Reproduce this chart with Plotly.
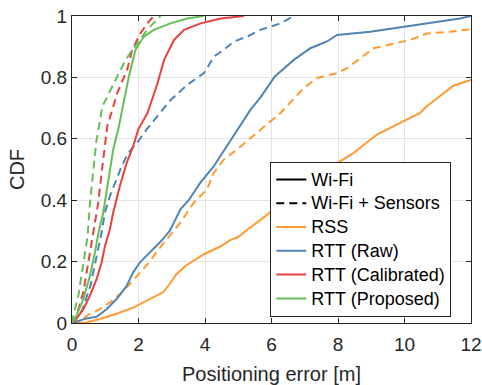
import plotly.graph_objects as go

# ---- data (positioning error [m], CDF) ----
rss_wifi_x = [0, 0.44, 0.84, 1.34, 1.84, 2.34, 2.74, 2.94, 3.14, 3.4, 3.7, 3.97, 4.47, 4.76, 5.0, 5.26, 5.66, 5.95,
              6.5, 7.0, 7.5, 7.97, 8.47, 8.97, 9.17, 9.87, 10.47, 10.67, 11.07, 11.47, 12]
rss_wifi_y = [0, 0.002, 0.013, 0.03, 0.05, 0.078, 0.1, 0.127, 0.159, 0.185, 0.205, 0.224, 0.25, 0.27, 0.28, 0.303, 0.335, 0.36,
              0.4, 0.44, 0.48, 0.52, 0.554, 0.597, 0.614, 0.652, 0.684, 0.706, 0.738, 0.773, 0.792]

rss_sens_x = [0, 0.24, 0.54, 0.84, 1.14, 1.44, 1.74, 2.04, 2.34, 2.64, 2.94, 3.26, 3.66, 4.06, 4.26, 4.56, 4.96, 5.26, 5.66,
              6.27, 6.97, 7.37, 7.97, 8.27, 9.07, 10.17, 10.67, 11.37, 12]
rss_sens_y = [0, 0.007, 0.03, 0.045, 0.067, 0.094, 0.127, 0.165, 0.2, 0.245, 0.283, 0.327, 0.392, 0.435, 0.489, 0.532, 0.565, 0.592, 0.63,
              0.684, 0.765, 0.798, 0.814, 0.83, 0.895, 0.922, 0.943, 0.949, 0.957]

raw_wifi_x = [0, 0.44, 0.74, 1.04, 1.34, 1.64, 1.84, 2.04, 2.34, 2.64, 2.94, 3.26, 3.51, 3.86, 4.26, 4.66, 5.0, 5.37, 5.67,
              6.1, 6.67, 7.17, 7.67, 7.97, 8.97, 10.17, 10.67, 11.67, 12]
raw_wifi_y = [0, 0.015, 0.02, 0.045, 0.078, 0.12, 0.165, 0.197, 0.23, 0.262, 0.3, 0.37, 0.4, 0.457, 0.51, 0.576, 0.635, 0.695, 0.735,
              0.803, 0.857, 0.895, 0.917, 0.938, 0.949, 0.968, 0.978, 0.992, 1.0]

raw_sens_x = [0, 0.3, 0.55, 0.75, 0.89, 0.99, 1.14, 1.34, 1.49, 1.69, 1.99, 2.24, 2.57, 2.97, 3.47, 3.97, 4.27, 4.57, 4.87,
              5.27, 5.67, 6.27, 6.67]
raw_sens_y = [0, 0.04, 0.12, 0.22, 0.294, 0.36, 0.413, 0.468, 0.51, 0.554, 0.592, 0.63, 0.673, 0.727, 0.776, 0.814, 0.868, 0.89, 0.917,
              0.933, 0.955, 0.976, 1.0]

cal_wifi_x = [0, 0.09, 0.34, 0.54, 0.74, 0.89, 0.99, 1.14, 1.24, 1.44, 1.64, 1.84, 1.99, 2.27, 2.57, 2.77, 3.07, 3.37, 3.87, 4.47, 5.17]
cal_wifi_y = [0, 0.007, 0.045, 0.089, 0.143, 0.197, 0.25, 0.305, 0.36, 0.446, 0.52, 0.576, 0.63, 0.684, 0.78, 0.857, 0.922, 0.955, 0.976, 0.992, 1.0]

cal_sens_x = [0, 0.14, 0.34, 0.44, 0.54, 0.64, 0.7, 0.79, 0.89, 0.99, 1.06, 1.36, 1.66, 1.81, 2.06, 2.31, 2.46]
cal_sens_y = [0, 0.024, 0.1, 0.165, 0.23, 0.305, 0.33, 0.392, 0.489, 0.576, 0.64, 0.749, 0.825, 0.89, 0.944, 0.982, 1.0]

pro_wifi_x = [0, 0.09, 0.34, 0.54, 0.69, 0.79, 0.94, 1.09, 1.24, 1.39, 1.51, 1.71, 1.91, 2.16, 2.46, 2.96, 3.46, 3.96]
pro_wifi_y = [0, 0.013, 0.078, 0.154, 0.23, 0.29, 0.36, 0.468, 0.565, 0.63, 0.695, 0.803, 0.89, 0.933, 0.955, 0.976, 0.992, 1.0]

pro_sens_x = [0, 0.04, 0.19, 0.29, 0.39, 0.47, 0.54, 0.64, 0.73, 0.91, 1.31, 1.61, 1.96, 2.26, 2.66]
pro_sens_y = [0, 0.024, 0.089, 0.154, 0.219, 0.283, 0.392, 0.489, 0.59, 0.705, 0.792, 0.857, 0.911, 0.955, 1.0]

x_ticks = [0, 2, 4, 6, 8, 10, 12]
y_ticks = [0, 0.2, 0.4, 0.6, 0.8, 1]

series = [
    ("RSS", "#FF9A33", rss_wifi_x, rss_wifi_y, rss_sens_x, rss_sens_y),
    ("RTT (Raw)", "#4F84B5", raw_wifi_x, raw_wifi_y, raw_sens_x, raw_sens_y),
    ("RTT (Calibrated)", "#E8413F", cal_wifi_x, cal_wifi_y, cal_sens_x, cal_sens_y),
    ("RTT (Proposed)", "#66BE58", pro_wifi_x, pro_wifi_y, pro_sens_x, pro_sens_y),
]

FONT = "Liberation Sans, Arial, Helvetica, sans-serif"
TXT = "#262626"
DASH = "8px,5px"


def lab(s):
    return '<span style="font-size:18px">' + s + '</span>'


fig = go.Figure()
# legend-only style entries
fig.add_trace(go.Scatter(x=[None], y=[None], mode="lines", name=lab("Wi-Fi"),
                         line=dict(color="black", width=2)))
fig.add_trace(go.Scatter(x=[None], y=[None], mode="lines", name=lab("Wi-Fi + Sensors"),
                         line=dict(color="black", width=2, dash=DASH)))

for name, col, xw, yw, xs, ys in series:
    fig.add_trace(go.Scatter(x=xs, y=ys, mode="lines", showlegend=False,
                             line=dict(color=col, width=2, dash=DASH)))
    fig.add_trace(go.Scatter(x=xw, y=yw, mode="lines", name=lab(name),
                             line=dict(color=col, width=2)))

axis_common = dict(
    showgrid=True, gridcolor="#e3e3e3", gridwidth=1,
    showline=True, linecolor=TXT, linewidth=1, mirror="allticks",
    ticks="inside", ticklen=5, tickcolor=TXT, tickwidth=1,
    tickfont=dict(family=FONT, size=19, color=TXT),
    zeroline=False, automargin=False,
)

fig.update_layout(
    width=482, height=385,
    margin=dict(l=72, r=11, t=16, b=62),
    paper_bgcolor="white", plot_bgcolor="white",
    font=dict(family=FONT, color=TXT),
    xaxis=dict(range=[0, 12], tickvals=x_ticks, ticktext=[str(v) for v in x_ticks],
               ticklabelstandoff=4,
               title=dict(text="Positioning error [m]", font=dict(family=FONT, size=20, color=TXT), standoff=14),
               **axis_common),
    yaxis=dict(range=[0, 1], tickvals=y_ticks, ticktext=[("%g" % v) for v in y_ticks],
               title=dict(text="CDF", font=dict(family=FONT, size=20, color=TXT), standoff=10),
               **axis_common),
    legend=dict(x=0.497, y=0.526, xanchor="left", yanchor="top",
                bgcolor="white", bordercolor=TXT, borderwidth=1,
                font=dict(family=FONT, size=16, color="black"),
                tracegroupgap=0),
    showlegend=True,
)

fig.write_html("out.html")
